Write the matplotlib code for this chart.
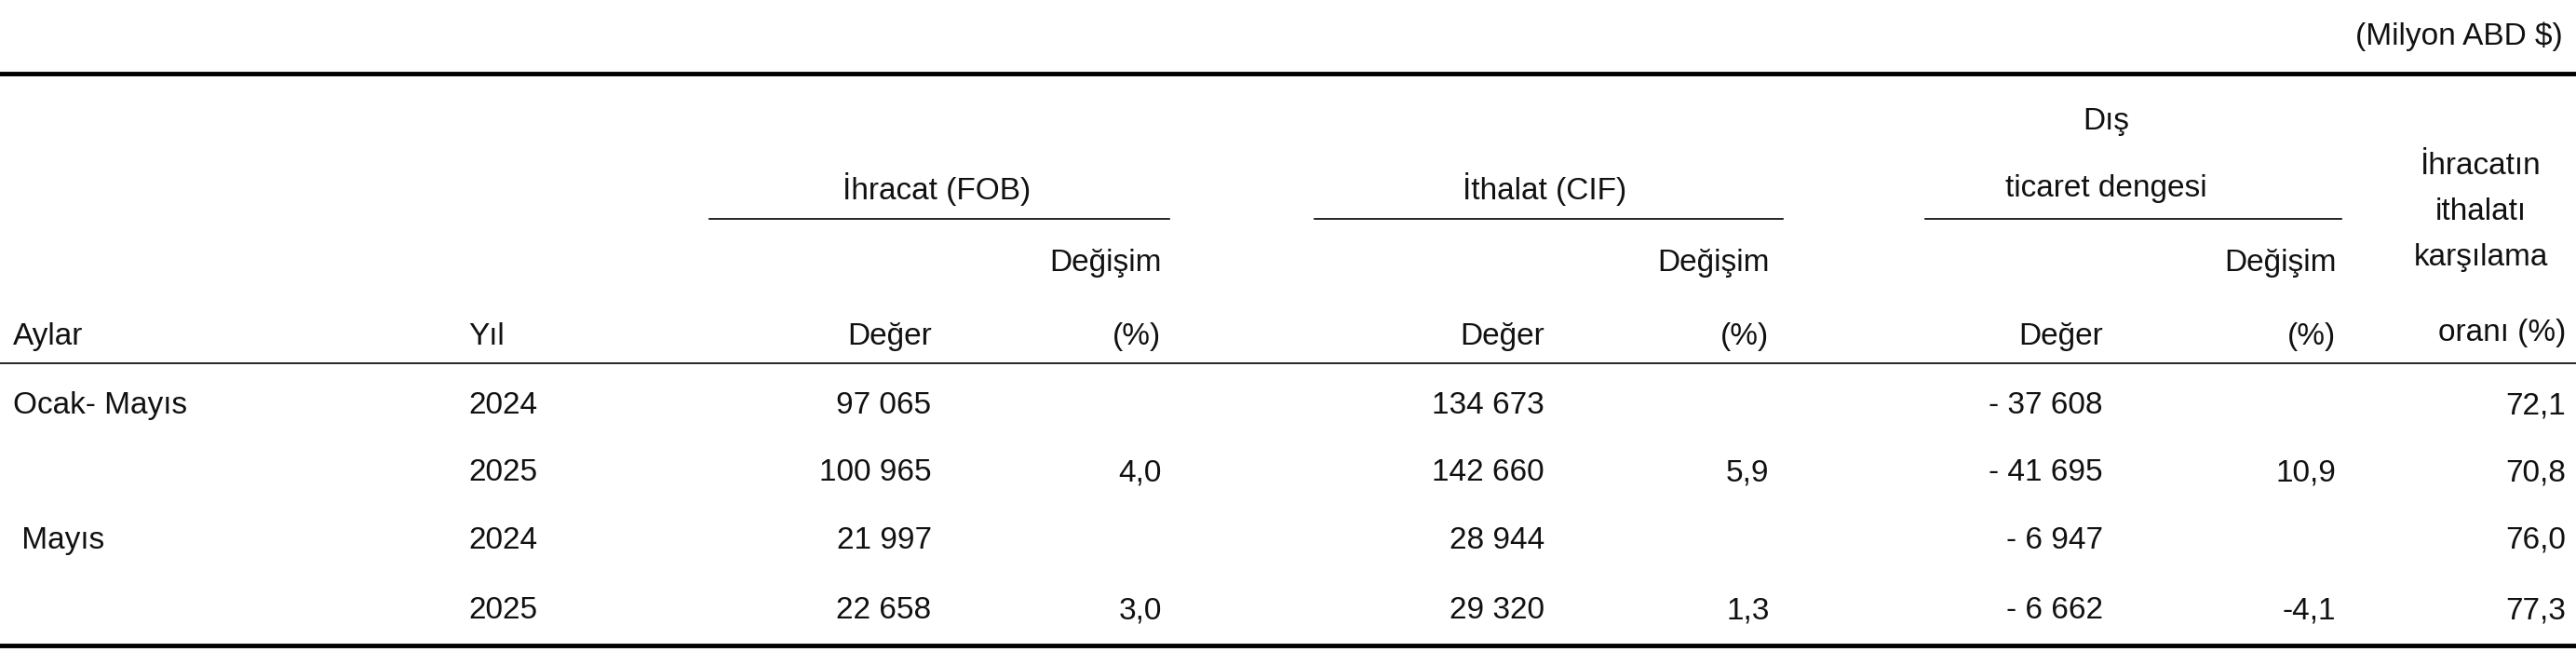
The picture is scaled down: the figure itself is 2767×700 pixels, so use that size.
import matplotlib.pyplot as plt

plt.rcParams['font.family'] = ['Liberation Sans', 'DejaVu Sans']

row_labels = ['Ocak- Mayıs', '', ' Mayıs', '']
years = ['2024', '2025', '2024', '2025']
exp_val = ['97 065', '100 965', '21 997', '22 658']
exp_chg = ['', '4,0', '', '3,0']
imp_val = ['134 673', '142 660', '28 944', '29 320']
imp_chg = ['', '5,9', '', '1,3']
bal_val = ['- 37 608', '- 41 695', '- 6 947', '- 6 662']
bal_chg = ['', '10,9', '', '-4,1']
cover = ['72,1', '70,8', '76,0', '77,3']

W, H = 1568, 397
fig = plt.figure(figsize=(27.67, 7), dpi=100)
ax = fig.add_axes([0, 0, 1, 1])
ax.set_xlim(0, W)
ax.set_ylim(H, 0)
ax.axis('off')

fs = 24
def t(x, y, s, ha='right'):
    ax.text(x, y, s, ha=ha, va='center', fontsize=fs, color='#111111')

t(1560, 22, '(Milyon ABD $)')
ax.plot([0, W], [45, 45], color='black', lw=3.5)
ax.plot([0, W], [393, 393], color='black', lw=3.5)
ax.plot([0, W], [221, 221], color='black', lw=1.2)

# group headers
t(570, 115, 'İhracat (FOB)', 'center')
ax.plot([432, 712], [133, 133], color='black', lw=1.2)
t(940, 115, 'İthalat (CIF)', 'center')
ax.plot([800, 1085], [133, 133], color='black', lw=1.2)
t(1282, 74, 'Dış', 'center')
t(1282, 115, 'ticaret dengesi', 'center')
ax.plot([1172, 1425], [133, 133], color='black', lw=1.2)
for i, s in enumerate(['İhracatın', 'ithalatı', 'karşılama']):
    t(1510, 101 + 28 * i, s, 'center')
t(1562, 203, 'oranı (%)')

for x in [707, 1077, 1422]:
    t(x, 160, 'Değişim')

t(8, 205, 'Aylar', 'left')
t(285, 205, 'Yıl', 'left')
for x in [567, 940, 1280]:
    t(x, 205, 'Değer')
for x in [707, 1077, 1422]:
    t(x, 205, '(%)')

cols = [(567, exp_val), (707, exp_chg), (940, imp_val), (1077, imp_chg),
        (1280, bal_val), (1422, bal_chg), (1562, cover)]
row_y = [247, 288, 329, 372]
for i, y in enumerate(row_y):
    t(8, y, row_labels[i], 'left')
    t(285, y, years[i], 'left')
    for x, vals in cols:
        t(x, y, vals[i])

fig.savefig('out.png', dpi=100, facecolor='white')
